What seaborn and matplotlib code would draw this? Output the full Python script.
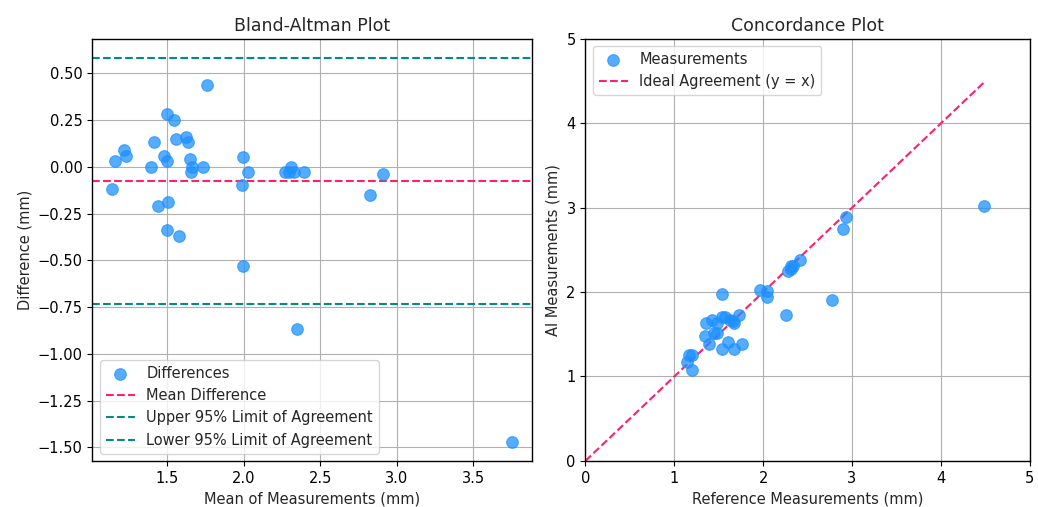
import numpy as np
import pandas as pd
import matplotlib
matplotlib.use('Agg')
import matplotlib.pyplot as plt
from matplotlib.ticker import MultipleLocator
import seaborn as sns

# %% measurements (mm)
reference = [1.54, 1.36, 1.42, 1.48, 1.54, 1.57, 1.35, 1.17, 1.20, 1.14,
             1.45, 1.48, 1.39, 1.63, 1.66, 1.73, 1.67, 1.97, 2.04, 2.04,
             2.31, 2.28, 2.31, 2.34, 2.41, 2.93, 2.90, 1.20, 1.54, 1.60,
             1.67, 1.76, 2.26, 2.78, 4.49]
ai = [1.98, 1.64, 1.67, 1.63, 1.70, 1.70, 1.48, 1.26, 1.26, 1.17,
      1.51, 1.51, 1.39, 1.67, 1.66, 1.73, 1.64, 2.02, 2.01, 1.94,
      2.31, 2.25, 2.28, 2.31, 2.38, 2.89, 2.75, 1.08, 1.33, 1.41,
      1.33, 1.39, 1.73, 1.91, 3.02]

df = pd.DataFrame({'ref': reference, 'ai': ai})
df['mean'] = (df['ref'] + df['ai']) / 2
df['diff'] = df['ai'] - df['ref']

mean_diff = df['diff'].mean()
sd_diff = df['diff'].std(ddof=1)
upper = mean_diff + 1.96 * sd_diff
lower = mean_diff - 1.96 * sd_diff

pt_color = '#1E90FF'
mean_color = '#FF1F6E'
loa_color = '#008B8B'

# %% plot
sns.set_style('ticks')
plt.rcParams['font.family'] = ['DejaVu Sans']
fig = plt.figure(figsize=(10.38, 5.07), dpi=100)
ax1 = fig.add_axes([0.089, 0.091, 0.424, 0.832])
ax2 = fig.add_axes([0.564, 0.091, 0.428, 0.832])

ax = ax1
sns.scatterplot(x='mean', y='diff', data=df, ax=ax, color=pt_color, alpha=0.75,
                s=70, edgecolor=pt_color, linewidth=0.8, label='Differences', zorder=3)
ax.axhline(mean_diff, color=mean_color, linestyle='--', linewidth=1.5, label='Mean Difference')
ax.axhline(upper, color=loa_color, linestyle='--', linewidth=1.5, label='Upper 95% Limit of Agreement')
ax.axhline(lower, color=loa_color, linestyle='--', linewidth=1.5, label='Lower 95% Limit of Agreement')
ax.xaxis.set_major_locator(MultipleLocator(0.5))
ax.yaxis.set_major_locator(MultipleLocator(0.25))
ax.set_title('Bland-Altman Plot', fontsize=12.5)
ax.set_xlabel('Mean of Measurements (mm)', fontsize=10.5)
ax.set_ylabel('Difference (mm)', fontsize=10.5)
ax.grid(True, color='#b0b0b0', linewidth=0.8)
ax.legend(loc='lower left', fontsize=10.5)

ax = ax2
sns.scatterplot(x='ref', y='ai', data=df, ax=ax, color=pt_color, alpha=0.75,
                s=70, edgecolor=pt_color, linewidth=0.8, label='Measurements', zorder=3)
lim = max(df['ref'].max(), df['ai'].max())
ax.plot([0, lim], [0, lim], color=mean_color, linestyle='--', linewidth=1.5,
        label='Ideal Agreement (y = x)')
ax.set_xlim(0, 5)
ax.set_ylim(0, 5)
ax.set_title('Concordance Plot', fontsize=12.5)
ax.set_xlabel('Reference Measurements (mm)', fontsize=10.5)
ax.set_ylabel('AI Measurements (mm)', fontsize=10.5)
ax.grid(True, color='#b0b0b0', linewidth=0.8)
ax.legend(loc='upper left', fontsize=10.5)

for a in (ax1, ax2):
    for s in a.spines.values():
        s.set_color('black')
        s.set_linewidth(1.0)
    a.tick_params(colors='black', labelsize=10.5)

plt.savefig('out.png', dpi=100)
